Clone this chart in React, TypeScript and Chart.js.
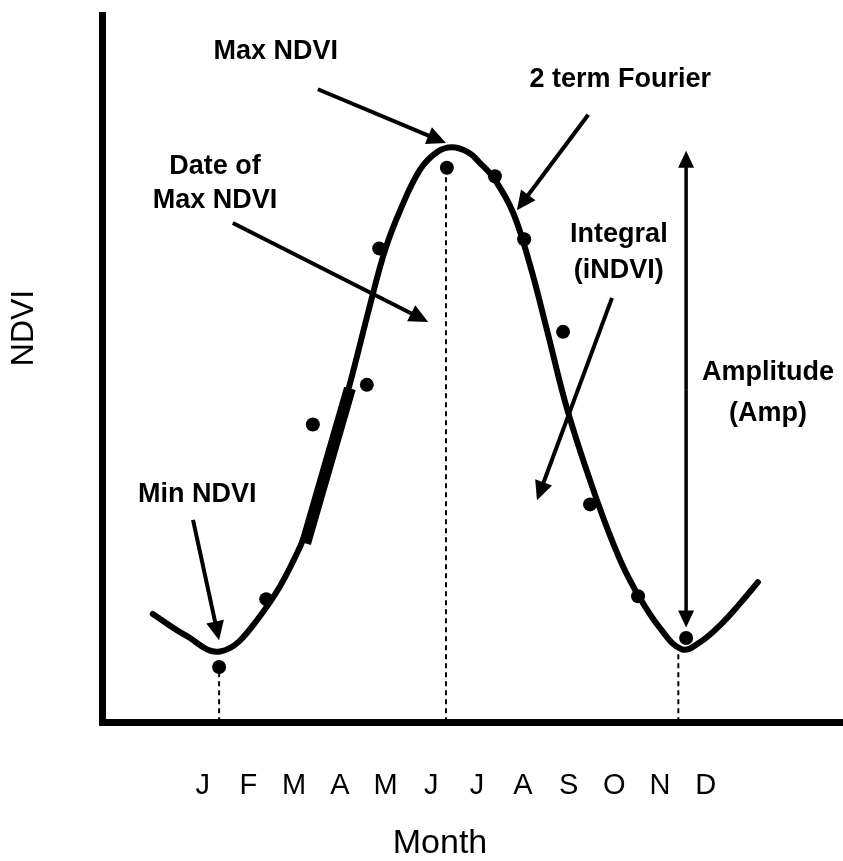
import React, { useEffect, useRef } from "react";
import { Chart, registerables } from "chart.js";

Chart.register(...registerables);

// Month tick labels, placed at positions 1..12 on the x scale
const monthLabels = ["J", "F", "M", "A", "M", "J", "J", "A", "S", "O", "N", "D"];
const monthPositions = [1, 2, 3, 4, 5, 6, 7, 8, 9, 10, 11, 12];

const curveX = [
  -0.09, 0.62, 1.38, 2.15, 3.13, 3.72, 4.27, 4.66, 4.99, 5.32, 5.75, 6.12, 6.45,
  6.8, 7.06, 7.39, 7.79, 8.16, 8.53, 8.99, 9.62, 10.13, 10.52, 11.0, 11.48, 11.87,
  12.31, 12.75, 13.14,
];
const curveY = [
  0.153, 0.123, 0.1, 0.141, 0.248, 0.361, 0.491, 0.59, 0.668, 0.724, 0.781, 0.806,
  0.813, 0.806, 0.791, 0.767, 0.72, 0.646, 0.554, 0.438, 0.314, 0.229, 0.18, 0.133,
  0.103, 0.113, 0.137, 0.168, 0.198,
];

// Observed NDVI composites
const obsX = [1.36, 2.39, 3.41, 4.59, 4.86, 6.34, 7.39, 8.03, 8.88, 9.47, 10.52, 11.57];
const obsY = [0.078, 0.174, 0.421, 0.477, 0.67, 0.784, 0.772, 0.683, 0.552, 0.308, 0.178, 0.119];

// Steepest green-up stretch (highlighted segment)
const slopeX = [3.24, 4.22];
const slopeY = [0.253, 0.472];

// Drop lines: date of min, date of max, date of second min
const dropX = [1.36, 6.32, 11.4];
const dropTop = [0.078, 0.784, 0.099];

// Annotation arrows: start (x0,y0) -> head (x1,y1)
const arrowX0 = [3.52, 9.43, 1.66, 9.95, 0.79];
const arrowY0 = [0.895, 0.859, 0.706, 0.6, 0.286];
const arrowX1 = [6.32, 7.87, 5.93, 8.31, 1.36];
const arrowY1 = [0.819, 0.724, 0.566, 0.314, 0.116];

// Amplitude double arrow
const ampX = 11.57;
const ampTop = 0.808;
const ampBottom = 0.134;

// Annotation labels
const labelText = [
  "Max NDVI",
  "2 term Fourier",
  "Date of",
  "Max NDVI",
  "Integral",
  "(iNDVI)",
  "Amplitude",
  "(Amp)",
  "Min NDVI",
];
const labelX = [2.6, 10.13, 1.27, 1.27, 10.1, 10.1, 13.36, 13.36, 0.88];
const labelY = [0.948, 0.909, 0.786, 0.738, 0.69, 0.638, 0.495, 0.437, 0.322];

const FONT = "'Liberation Sans', Arial, Helvetica, sans-serif";

function drawArrow(
  ctx: CanvasRenderingContext2D,
  x0: number,
  y0: number,
  x1: number,
  y1: number,
  width: number,
  headLen: number,
  headHalf: number
) {
  const ang = Math.atan2(y1 - y0, x1 - x0);
  const bx = x1 - Math.cos(ang) * headLen;
  const by = y1 - Math.sin(ang) * headLen;
  ctx.beginPath();
  ctx.lineWidth = width;
  ctx.lineCap = "butt";
  ctx.moveTo(x0, y0);
  ctx.lineTo(bx + Math.cos(ang) * 2, by + Math.sin(ang) * 2);
  ctx.stroke();
  ctx.beginPath();
  ctx.moveTo(x1, y1);
  ctx.lineTo(bx + Math.sin(ang) * headHalf, by - Math.cos(ang) * headHalf);
  ctx.lineTo(bx - Math.sin(ang) * headHalf, by + Math.cos(ang) * headHalf);
  ctx.closePath();
  ctx.fill();
}

const annotationPlugin = {
  id: "phenologyAnnotations",
  afterDatasetsDraw(chart: any) {
    const { ctx, scales } = chart;
    const xs = scales.x;
    const ys = scales.y;
    ctx.save();
    ctx.strokeStyle = "#000";
    ctx.fillStyle = "#000";

    for (let i = 0; i < arrowX0.length; i++) {
      drawArrow(
        ctx,
        xs.getPixelForValue(arrowX0[i]),
        ys.getPixelForValue(arrowY0[i]),
        xs.getPixelForValue(arrowX1[i]),
        ys.getPixelForValue(arrowY1[i]),
        4,
        19,
        9
      );
    }

    const ax = xs.getPixelForValue(ampX);
    const aTop = ys.getPixelForValue(ampTop);
    const aBot = ys.getPixelForValue(ampBottom);
    const mid = (aTop + aBot) / 2;
    drawArrow(ctx, ax, mid, ax, aTop, 3.5, 17, 8);
    drawArrow(ctx, ax, mid, ax, aBot, 3.5, 17, 8);

    ctx.font = `bold 27px ${FONT}`;
    ctx.textAlign = "center";
    ctx.textBaseline = "middle";
    for (let i = 0; i < labelText.length; i++) {
      ctx.fillText(labelText[i], xs.getPixelForValue(labelX[i]), ys.getPixelForValue(labelY[i]));
    }

    // Axis titles
    ctx.font = `34px ${FONT}`;
    ctx.fillText("Month", 440, 844);
    ctx.translate(24, 328);
    ctx.rotate(-Math.PI / 2);
    ctx.font = `32px ${FONT}`;
    ctx.fillText("NDVI", 0, 0);
    ctx.restore();
  },
};

export default function App() {
  const canvasRef = useRef<HTMLCanvasElement | null>(null);

  useEffect(() => {
    const canvas = canvasRef.current;
    if (!canvas) return;

    const toPoints = (xs: number[], ys: number[]) => xs.map((x, i) => ({ x, y: ys[i] }));

    const dropSets = dropX.map((x, i) => ({
      label: `drop${i}`,
      data: [
        { x, y: 0 },
        { x, y: dropTop[i] },
      ],
      borderColor: "#000",
      borderWidth: 2,
      borderDash: [5, 4],
      pointRadius: 0,
      fill: false,
    }));

    const chart = new Chart(canvas, {
      type: "line",
      data: {
        datasets: [
          {
            label: "Observed",
            data: toPoints(obsX, obsY),
            showLine: false,
            pointRadius: 7,
            pointBackgroundColor: "#000",
            pointBorderColor: "#000",
            pointBorderWidth: 0,
          },
          {
            label: "Green-up",
            data: toPoints(slopeX, slopeY),
            borderColor: "#000",
            borderWidth: 12,
            borderCapStyle: "butt",
            pointRadius: 0,
            fill: false,
          },
          {
            label: "2 term Fourier",
            data: toPoints(curveX, curveY),
            borderColor: "#000",
            borderWidth: 6,
            borderCapStyle: "round",
            borderJoinStyle: "round",
            tension: 0.4,
            pointRadius: 0,
            fill: false,
          },
          ...dropSets,
        ],
      },
      options: {
        animation: false,
        responsive: false,
        devicePixelRatio: 1,
        layout: { padding: { left: 102, top: 15, right: 0, bottom: 12 } },
        plugins: {
          legend: { display: false },
          tooltip: { enabled: false },
          title: { display: false },
        },
        scales: {
          x: {
            type: "linear",
            min: -1.2,
            max: 15,
            grid: { display: false, drawTicks: false },
            border: { display: true, color: "#000", width: 7 },
            afterBuildTicks: (axis: any) => {
              axis.ticks = monthPositions.map((v) => ({ value: v }));
            },
            ticks: {
              autoSkip: false,
              maxRotation: 0,
              padding: 46,
              color: "#000",
              font: { family: FONT, size: 29 },
              callback: (_v: any, index: number) => monthLabels[index],
            },
          },
          y: {
            type: "linear",
            min: 0,
            max: 1,
            grid: { display: false, drawTicks: false },
            border: { display: true, color: "#000", width: 7 },
            ticks: { display: false },
          },
        },
      },
      plugins: [annotationPlugin],
    });

    return () => chart.destroy();
  }, []);

  return (
    <div
      style={{
        position: "fixed",
        left: 0,
        top: 0,
        width: 843,
        height: 861,
        overflow: "hidden",
        background: "#fff",
      }}
    >
      <canvas ref={canvasRef} width={850} height={861} style={{ display: "block" }} />
    </div>
  );
}
